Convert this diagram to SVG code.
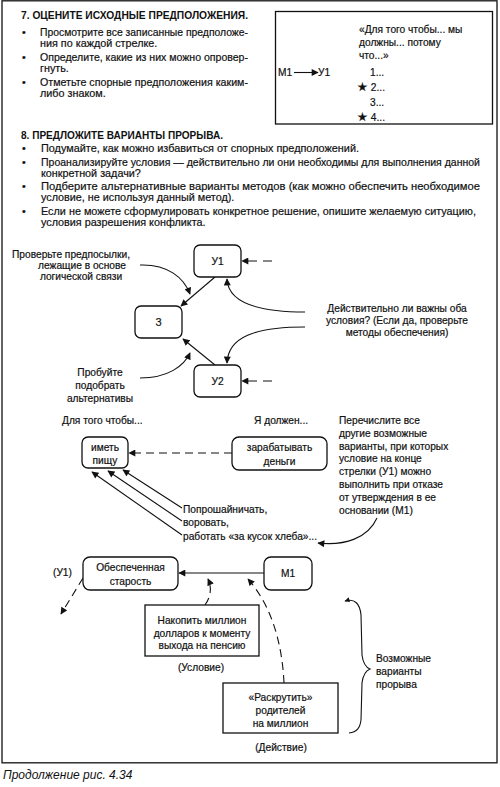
<svg xmlns="http://www.w3.org/2000/svg" width="500" height="787" viewBox="0 0 500 787">
<style>
text{font-family:"Liberation Sans",Arial,sans-serif;fill:#111;stroke:#111;stroke-width:0.2;}
.t{font-size:10.8px;}
.h{font-size:11px;font-weight:bold;stroke-width:0;}
.s{font-size:10.2px;}
.m{text-anchor:middle;}
.st{font-size:12px;}
.box{fill:#fff;stroke:#111;stroke-width:1.3;}
.ln{fill:none;stroke:#111;stroke-width:1.1;}
.dash{fill:none;stroke:#111;stroke-width:1.1;stroke-dasharray:8,5;}
</style>
<defs>
<marker id="ah" viewBox="0 0 10 10" refX="9" refY="5" markerWidth="8" markerHeight="7" markerUnits="userSpaceOnUse" orient="auto"><path d="M0,0 L10,5 L0,10 Z" fill="#111"/></marker>
<marker id="ahs" viewBox="0 0 10 10" refX="9" refY="5" markerWidth="6" markerHeight="5" markerUnits="userSpaceOnUse" orient="auto-start-reverse"><path d="M0,0 L10,5 L0,10 Z" fill="#111"/></marker>
</defs>
<rect x="2" y="0.8" width="495" height="762" fill="none" stroke="#222" stroke-width="1.4"/>

<g id="section7">
<text class="h" x="21" y="19" textLength="227" lengthAdjust="spacingAndGlyphs">7. ОЦЕНИТЕ ИСХОДНЫЕ ПРЕДПОЛОЖЕНИЯ.</text>
<text class="t" x="22" y="35.5">•</text>
<text class="t" x="40" y="35.5" textLength="208" lengthAdjust="spacingAndGlyphs">Просмотрите все записанные предположе-</text>
<text class="t" x="40" y="46.5">ния по каждой стрелке.</text>
<text class="t" x="22" y="60.5">•</text>
<text class="t" x="40" y="60.5" textLength="208" lengthAdjust="spacingAndGlyphs">Определите, какие из них можно опровер-</text>
<text class="t" x="40" y="72">гнуть.</text>
<text class="t" x="22" y="85.5">•</text>
<text class="t" x="40" y="85.5" textLength="208" lengthAdjust="spacingAndGlyphs">Отметьте спорные предположения каким-</text>
<text class="t" x="40" y="97">либо знаком.</text>
</g>

<g id="assumption-box">
<rect x="275.5" y="11.5" width="217" height="112.5" fill="none" stroke="#111" stroke-width="1.3"/>
<text class="s" x="278" y="76">М1</text>
<line x1="294" y1="72.5" x2="318" y2="72.5" class="ln" marker-end="url(#ah)"/>
<text class="s" x="318" y="76">У1</text>
<text class="s" x="359" y="33">«Для того чтобы... мы</text>
<text class="s" x="359" y="46">должны... потому</text>
<text class="s" x="359" y="59">что...»</text>
<text class="s" x="370" y="76">1...</text>
<text class="s" x="357" y="91"><tspan class="st">★</tspan> 2...</text>
<text class="s" x="370" y="106">3...</text>
<text class="s" x="357" y="121"><tspan class="st">★</tspan> 4...</text>
</g>

<g id="section8">
<text class="h" x="21" y="139" textLength="202" lengthAdjust="spacingAndGlyphs">8. ПРЕДЛОЖИТЕ ВАРИАНТЫ ПРОРЫВА.</text>
<text class="t" x="22" y="152">•</text>
<text class="t" x="41" y="152" textLength="318" lengthAdjust="spacingAndGlyphs">Подумайте, как можно избавиться от спорных предположений.</text>
<text class="t" x="22" y="165.5">•</text>
<text class="t" x="41" y="165.5" textLength="439" lengthAdjust="spacingAndGlyphs">Проанализируйте условия — действительно ли они необходимы для выполнения данной</text>
<text class="t" x="41" y="176.5">конкретной задачи?</text>
<text class="t" x="22" y="190">•</text>
<text class="t" x="41" y="190" textLength="439" lengthAdjust="spacingAndGlyphs">Подберите альтернативные варианты методов (как можно обеспечить необходимое</text>
<text class="t" x="41" y="201">условие, не используя данный метод).</text>
<text class="t" x="22" y="214.5">•</text>
<text class="t" x="41" y="214.5" textLength="435" lengthAdjust="spacingAndGlyphs">Если не можете сформулировать конкретное решение, опишите желаемую ситуацию,</text>
<text class="t" x="41" y="225.5">условия разрешения конфликта.</text>
</g>

<g id="connectors">
<line x1="215" y1="277" x2="181" y2="306" class="ln" marker-end="url(#ah)"/>
<line x1="215" y1="365" x2="183" y2="339" class="ln" marker-end="url(#ah)"/>
<path d="M140,265 C168,264 184,278 190,294" class="ln" marker-end="url(#ah)"/>
<path d="M140,378 C168,378 184,366 190,353" class="ln" marker-end="url(#ah)"/>
<path d="M305,312 C255,312 228,302 227,279" class="ln" marker-end="url(#ah)"/>
<path d="M305,327 C255,327 228,337 227,363" class="ln" marker-end="url(#ah)"/>
<line x1="272" y1="261" x2="242" y2="261" class="ln" stroke-dasharray="9,6" marker-end="url(#ah)"/>
<line x1="272" y1="381" x2="242" y2="381" class="ln" stroke-dasharray="9,6" marker-end="url(#ah)"/>
<line x1="232" y1="453" x2="129" y2="453" class="dash" marker-end="url(#ah)"/>
<line x1="182" y1="508" x2="123" y2="470" class="ln" marker-end="url(#ah)"/>
<line x1="182" y1="521" x2="108" y2="471" class="ln" marker-end="url(#ah)"/>
<line x1="182" y1="535" x2="92" y2="472" class="ln" marker-end="url(#ah)"/>
<path d="M377,518 C368,538 345,546 318,543" class="ln" marker-end="url(#ah)"/>
<line x1="83" y1="578" x2="61" y2="614" class="dash" marker-end="url(#ah)"/>
<line x1="264" y1="573" x2="179" y2="573" class="ln" stroke-width="1.3" marker-end="url(#ah)"/>
<path d="M205,605 Q214,592 208,579" class="dash" marker-end="url(#ah)"/>
<path d="M284,683 C282,640 270,604 248,579" class="dash" marker-end="url(#ah)"/>
<path d="M345,601 C355,598 360,604 361,615 L362,655 C363,663 365,667 370,669 C365,671 363,675 362,683 L361,720 C360,728 357,732 349,733" class="ln" marker-start="url(#ahs)"/>
</g>

<g id="label-premises">
<text class="s m" x="71" y="258">Проверьте предпосылки,</text>
<text class="s m" x="82" y="269">лежащие в основе</text>
<text class="s m" x="81" y="280">логической связи</text>
</g>
<g id="label-alternatives">
<text class="s m" x="100" y="376">Пробуйте</text>
<text class="s m" x="100" y="389">подобрать</text>
<text class="s m" x="100" y="402">альтернативы</text>
</g>
<g id="label-both">
<text class="s m" x="397" y="312">Действительно ли важны оба</text>
<text class="s m" x="397" y="324">условия? (Если да, проверьте</text>
<text class="s m" x="397" y="336">методы обеспечения)</text>
</g>

<g id="node-U1">
<rect x="194" y="245" width="47" height="32" rx="6" class="box"/>
<text class="s m" x="217.5" y="265">У1</text>
</g>
<g id="node-Z">
<rect x="135" y="306" width="47" height="32" rx="6" class="box"/>
<text class="s m" x="158.5" y="326">З</text>
</g>
<g id="node-U2">
<rect x="194" y="365" width="47" height="32" rx="6" class="box"/>
<text class="s m" x="217.5" y="385">У2</text>
</g>

<g id="headers2">
<text class="s" x="62" y="424">Для того чтобы...</text>
<text class="s" x="254" y="424">Я должен...</text>
</g>
<g id="node-food">
<rect x="82" y="437" width="46" height="31" rx="6" class="box"/>
<text class="s m" x="105" y="451">иметь</text>
<text class="s m" x="105" y="464">пищу</text>
</g>
<g id="node-earn">
<rect x="232" y="437" width="95" height="33" rx="7" class="box"/>
<text class="s m" x="279.5" y="451">зарабатывать</text>
<text class="s m" x="279.5" y="465">деньги</text>
</g>
<g id="label-ways">
<text class="s" x="183" y="513">Попрошайничать,</text>
<text class="s" x="183" y="526">воровать,</text>
<text class="s" x="183" y="540">работать «за кусок хлеба»...</text>
</g>
<g id="label-list">
<text class="s" x="339" y="424">Перечислите все</text>
<text class="s" x="339" y="437">другие возможные</text>
<text class="s" x="339" y="450">варианты, при которых</text>
<text class="s" x="339" y="462">условие на конце</text>
<text class="s" x="339" y="475">стрелки (У1) можно</text>
<text class="s" x="339" y="488">выполнить при отказе</text>
<text class="s" x="339" y="501">от утверждения в ее</text>
<text class="s" x="339" y="514">основании (М1)</text>
</g>

<g id="label-U1">
<text class="s" x="53" y="576">(У1)</text>
</g>
<g id="node-old-age">
<rect x="83" y="557" width="95" height="33" rx="7" class="box"/>
<text class="s m" x="130.5" y="571">Обеспеченная</text>
<text class="s m" x="130.5" y="585">старость</text>
</g>
<g id="node-M1">
<rect x="264" y="557" width="48" height="33" rx="7" class="box"/>
<text class="s m" x="288" y="577">М1</text>
</g>
<g id="node-condition">
<rect x="145" y="605" width="114" height="51" class="box"/>
<text class="s m" x="202" y="624">Накопить миллион</text>
<text class="s m" x="202" y="637">долларов к моменту</text>
<text class="s m" x="202" y="649">выхода на пенсию</text>
<text class="s m" x="201" y="671">(Условие)</text>
</g>
<g id="node-action">
<rect x="223" y="683" width="115" height="50" class="box"/>
<text class="s m" x="280.5" y="701">«Раскрутить»</text>
<text class="s m" x="280.5" y="714">родителей</text>
<text class="s m" x="280.5" y="727">на миллион</text>
<text class="s m" x="281" y="751">(Действие)</text>
</g>
<g id="label-breakthrough">
<text class="s" x="376" y="662">Возможные</text>
<text class="s" x="376" y="675">варианты</text>
<text class="s" x="376" y="688">прорыва</text>
</g>
<text x="3" y="779" style="font-size:12px;font-style:italic;stroke-width:0">Продолжение рис. 4.34</text>
</svg>
